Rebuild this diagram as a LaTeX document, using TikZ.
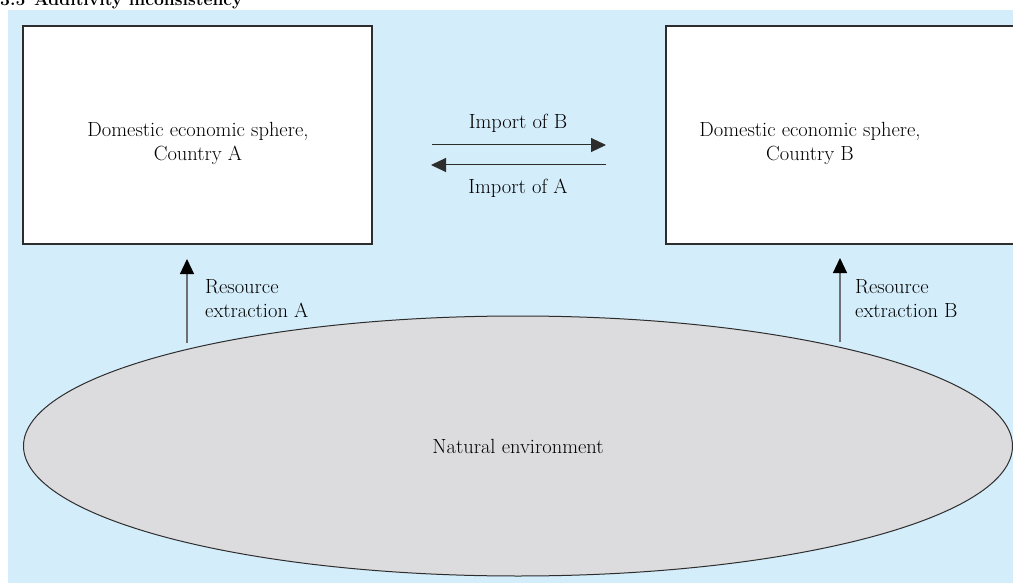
\documentclass[tikz,border=0pt]{standalone}
\usetikzlibrary{arrows.meta,shapes.geometric}
\definecolor{panel}{RGB}{212,237,250}
\definecolor{earth}{RGB}{220,220,222}
\definecolor{edge}{RGB}{45,45,45}
\definecolor{shaft}{RGB}{110,110,115}
\tikzset{
  x=1pt, y=-1pt,
  sphere/.style={draw=edge, line width=1.3pt, fill=white},
  lbl/.style={font=\fontsize{20.5}{24}\selectfont, align=center, inner sep=0pt},
  lbll/.style={font=\fontsize{20.5}{24}\selectfont, align=left, inner sep=0pt, anchor=west},
  trade/.style={draw=edge, line width=1pt, -{Triangle[length=15pt,width=14pt]}},
  extract/.style={draw=shaft, line width=1.2pt, -{Triangle[length=15pt,width=14pt,fill=black,color=black]}},
}
\begin{document}
\begin{tikzpicture}
\useasboundingbox (0,0) rectangle (1013,583);
\clip (0,0) rectangle (1013,583);
% panel background
\fill[panel] (8,10) rectangle (1013,583);
% heading
\node[anchor=base west, inner sep=0pt, font=\bfseries\fontsize{17.5}{20}\selectfont] (title) at (0,6) {3.5\enspace Additivity inconsistency};
% the two economies
\draw[sphere] (23,26) rectangle (372,244);
\draw[sphere] (666,26) rectangle (1040,244);
\node[lbl] (ecoA) at (198,143) {Domestic economic sphere,\\Country A};
\node[lbl] (ecoB) at (810,143) {Domestic economic sphere,\\Country B};
% natural environment
\node[ellipse, draw=edge, line width=1pt, fill=earth, minimum width=989pt, minimum height=260pt, inner sep=0pt] (env) at (518,446) {};
\node[lbl] (envtxt) at (env.center) {Natural environment};
% trade flows
\coordinate (ta1) at (432,145);
\coordinate (ta2) at (606,145);
\coordinate (tb1) at (606,165);
\coordinate (tb2) at (431,165);
\draw[trade] (ta1) -- (ta2);
\draw[trade] (tb1) -- (tb2);
\node[lbl] (impB) at (518,123) {Import of B};
\node[lbl] (impA) at (518,188) {Import of A};
% resource extraction
\coordinate (ra1) at (187,343);
\coordinate (ra2) at (187,259);
\coordinate (rb1) at (840,342);
\coordinate (rb2) at (840,258);
\draw[extract] (ra1) -- (ra2);
\draw[extract] (rb1) -- (rb2);
\node[lbll] (resA) at (205,299) {Resource\\extraction A};
\node[lbll] (resB) at (855,299) {Resource\\extraction B};
\end{tikzpicture}
\end{document}
